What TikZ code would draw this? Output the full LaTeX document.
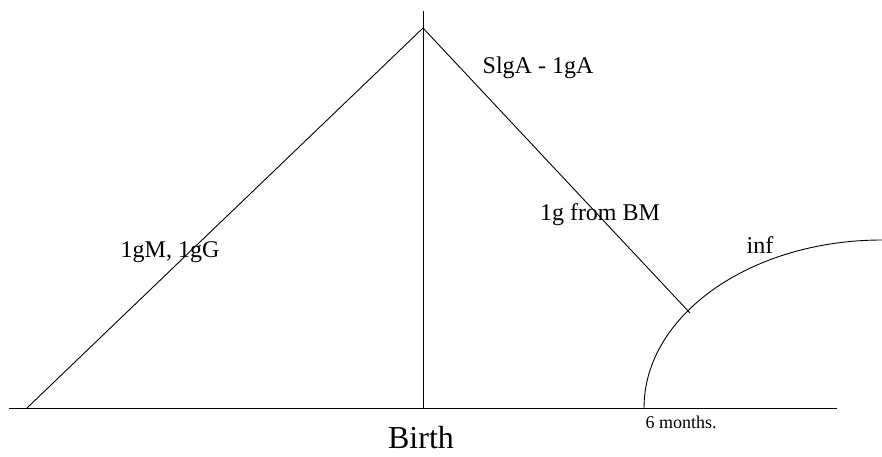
\documentclass[tikz,border=0pt]{standalone}
\usepackage{fontspec}
\setmainfont{Liberation Serif}
\tikzset{
    axisline/.style={line width=0.9pt},
    lbl/.style={inner sep=0pt, font=\fontsize{24}{28}\selectfont},
}
\begin{document}
\begin{tikzpicture}[x=1pt, y=1pt]
        \useasboundingbox (0,0) rectangle (882,456);

        \coordinate (left) at (9,48);
        \coordinate (right) at (837,48);
        \coordinate (foot) at (27,48);
        \coordinate (birth) at (423,48);
        \coordinate (top) at (423,445);
        \coordinate (peak) at (423,428);
        \coordinate (tail) at (690,143);
        \coordinate (six) at (644,48);

        \draw[axisline] (left) -- (right);
        \draw[axisline] (birth) -- (top);
        \draw[axisline] (foot) -- (peak) -- (tail);
        \draw[axisline] (six) arc[start angle=180, end angle=90, x radius=238, y radius=168];

        \node[lbl] (slga) at (538,388) {SlgA - 1gA};
        \node[lbl] (igm) at (170,204) {1gM, 1gG};
        \node[lbl] (bm) at (600,241) {1g from BM};
        \node[lbl] (inf) at (760,211) {inf};
        \node[lbl, font=\fontsize{18}{21}\selectfont] (months) at (681,34) {6 months.};
        \node[lbl, font=\fontsize{32}{36}\selectfont] (birthlbl) at (421,18) {Birth};
    \end{tikzpicture}
\end{document}
